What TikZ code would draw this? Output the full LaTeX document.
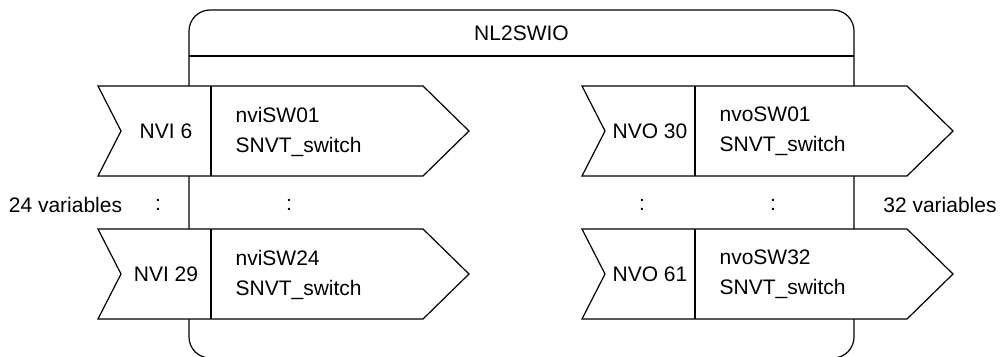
\documentclass[tikz,border=0pt]{standalone}
\usepackage{fontspec}
\setmainfont{Liberation Sans}
\begin{document}
\begin{tikzpicture}[x=1pt,y=-1pt,
  line width=1.2pt, line join=miter,
  lbl/.style={font=\fontsize{21}{30}\selectfont, inner sep=0pt, text=black},
  vtxt/.style={lbl, anchor=west, align=left},
  shp/.style={draw=black, fill=white}]
\useasboundingbox (0,0) rectangle (1003,356);
\begin{scope}
\clip (0,0) rectangle (1003,356);
% outer module box
\draw[rounded corners=21pt] (189,10) rectangle (854,358);
\draw (189,56) -- (854,56);
\node[lbl] (title) at (521.5,33) {NL2SWIO};
% left inputs
\foreach \t/\name/\ida/\idb in {86/nviA/NVI 6/nviSW01, 229/nviB/NVI 29/nviSW24}{
  \draw[shp] (98,\t) -- (423,\t) -- (469,\t+45) -- (423,\t+90) -- (98,\t+90) -- (121,\t+45) -- cycle;
  \draw (211,\t) -- (211,\t+90);
  \node[lbl] (\name-num) at (166,\t+45.5) {\ida};
  \node[vtxt] (\name-txt) at (235,\t+45.5) {\idb\\SNVT\_switch};
}
% right outputs
\foreach \t/\name/\ida/\idb in {86/nvoA/NVO 30/nvoSW01, 229/nvoB/NVO 61/nvoSW32}{
  \draw[shp] (582,\t) -- (907,\t) -- (953,\t+45) -- (907,\t+90) -- (582,\t+90) -- (605,\t+45) -- cycle;
  \draw (695,\t) -- (695,\t+90);
  \node[lbl] (\name-num) at (650,\t+45.5) {\ida};
  \node[vtxt] (\name-txt) at (719,\t+45.5) {\idb\\SNVT\_switch};
}
\end{scope}
% ellipsis rows
\node[lbl] (invars) at (65.5,205) {24 variables};
\node[lbl] (dotA) at (158,205) {:};
\node[lbl] (dotB) at (289,205) {:};
\node[lbl] (dotC) at (642,205) {:};
\node[lbl] (dotD) at (773,205) {:};
\node[lbl] (outvars) at (940,205) {32 variables};
\end{tikzpicture}
\end{document}
